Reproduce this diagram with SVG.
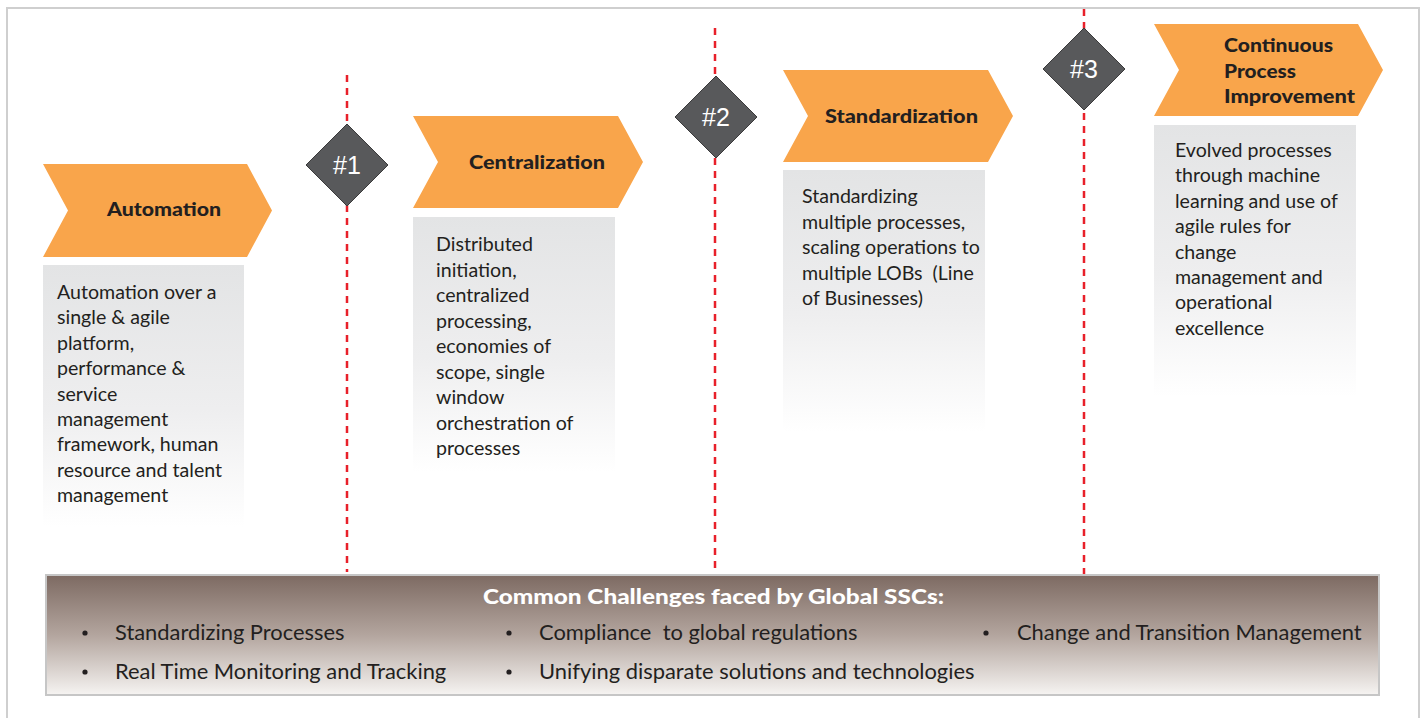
<svg xmlns="http://www.w3.org/2000/svg" width="1422" height="718" viewBox="0 0 1422 718">
  <defs>
    <linearGradient id="descFill" x1="0" y1="0" x2="0" y2="1">
      <stop offset="0" stop-color="#e3e4e5"/>
      <stop offset="0.55" stop-color="#eeeeef"/>
      <stop offset="1" stop-color="#ffffff"/>
    </linearGradient>
    <linearGradient id="bandFill" x1="0" y1="0" x2="0" y2="1">
      <stop offset="0" stop-color="#7d6a62"/>
      <stop offset="0.5" stop-color="#b3a59e"/>
      <stop offset="1" stop-color="#f6f4f2"/>
    </linearGradient>
    <style>
      .frame { fill: none; stroke: #cfcfcf; stroke-width: 2; }
      .chev { fill: #f9a54b; }
      .desc { fill: url(#descFill); }
      .gate { fill: #58595b; stroke: #3a3a3b; stroke-width: 1; }
      .gate-label { font-family: "Liberation Sans", Arial, sans-serif; font-size: 25px; fill: #ffffff; text-anchor: middle; }
      .head { font-family: Lato, "Liberation Sans", sans-serif; font-size: 19.5px; font-weight: 900; fill: #231f20; }
      .body { font-family: Lato, "Liberation Sans", sans-serif; font-size: 19.6px; fill: #231f20; }
      .milestone { stroke: #e8202a; stroke-width: 2.5; stroke-dasharray: 7 6; fill: none; }
      .band { fill: url(#bandFill); stroke: #c6c6c6; stroke-width: 2; }
      .band-title { font-family: Lato, "Liberation Sans", sans-serif; font-size: 21px; font-weight: 900; fill: #ffffff; }
      .item { font-family: Lato, "Liberation Sans", sans-serif; font-size: 21.9px; fill: #231f20; }
      .dot { fill: #231f20; }
    </style>
  </defs>

  <rect width="1422" height="718" fill="#ffffff"/>
  <!-- outer frame, open at the bottom -->
  <path class="frame" d="M7,718 V8 H1419 V718"/>

  <!-- milestone dividers -->
  <g id="connectors">
    <line class="milestone" x1="347" y1="75" x2="347" y2="572"/>
    <line class="milestone" x1="715" y1="28" x2="715" y2="574"/>
    <line class="milestone" x1="1084" y1="9" x2="1084" y2="574"/>
  </g>

  <!-- stage 1 -->
  <g id="automation">
    <path class="chev" d="M43,164 H247 L272,210.5 L247,257 H43 L68,210.5 Z"/>
    <text class="head" x="107" y="216" textLength="114" lengthAdjust="spacingAndGlyphs">Automation</text>
    <rect class="desc" x="43" y="265" width="201" height="262"/>
    <text class="body">
      <tspan x="57" y="299">Automation over a</tspan>
      <tspan x="57" y="324.4">single &amp; agile</tspan>
      <tspan x="57" y="349.8">platform,</tspan>
      <tspan x="57" y="375.2">performance &amp;</tspan>
      <tspan x="57" y="400.6">service</tspan>
      <tspan x="57" y="426">management</tspan>
      <tspan x="57" y="451.4">framework, human</tspan>
      <tspan x="57" y="476.8">resource and talent</tspan>
      <tspan x="57" y="502.2">management</tspan>
    </text>
  </g>

  <g id="gate1">
    <path class="gate" d="M347,124 L388,165 L347,206 L306,165 Z"/>
    <text class="gate-label" x="347" y="174">#1</text>
  </g>

  <!-- stage 2 -->
  <g id="centralization">
    <path class="chev" d="M413,116 H618 L643,162 L618,208 H413 L438,162 Z"/>
    <text class="head" x="469" y="169" textLength="136" lengthAdjust="spacingAndGlyphs">Centralization</text>
    <rect class="desc" x="413" y="217" width="202" height="255"/>
    <text class="body">
      <tspan x="436" y="251">Distributed</tspan>
      <tspan x="436" y="276.5">initiation,</tspan>
      <tspan x="436" y="302">centralized</tspan>
      <tspan x="436" y="327.5">processing,</tspan>
      <tspan x="436" y="353">economies of</tspan>
      <tspan x="436" y="378.5">scope, single</tspan>
      <tspan x="436" y="404">window</tspan>
      <tspan x="436" y="429.5">orchestration of</tspan>
      <tspan x="436" y="455">processes</tspan>
    </text>
  </g>

  <g id="gate2">
    <path class="gate" d="M716,76 L757,117 L716,158 L675,117 Z"/>
    <text class="gate-label" x="716" y="126">#2</text>
  </g>

  <!-- stage 3 -->
  <g id="standardization">
    <path class="chev" d="M783,70 H988 L1013,116 L988,162 H783 L808,116 Z"/>
    <text class="head" x="825" y="123" textLength="153" lengthAdjust="spacingAndGlyphs">Standardization</text>
    <rect class="desc" x="783" y="170" width="202" height="262"/>
    <text class="body">
      <tspan x="802" y="203">Standardizing</tspan>
      <tspan x="802" y="228.5">multiple processes,</tspan>
      <tspan x="802" y="254">scaling operations to</tspan>
      <tspan x="802" y="279.5">multiple LOBs &#160;(Line</tspan>
      <tspan x="802" y="305">of Businesses)</tspan>
    </text>
  </g>

  <g id="gate3">
    <path class="gate" d="M1084,28 L1125,69 L1084,110 L1043,69 Z"/>
    <text class="gate-label" x="1084" y="78">#3</text>
  </g>

  <!-- stage 4 -->
  <g id="continuous-improvement">
    <path class="chev" d="M1154,24 H1358 L1383,70 L1358,116 H1154 L1179,70 Z"/>
    <text class="head" x="1224" y="52" textLength="109" lengthAdjust="spacingAndGlyphs">Continuous</text>
    <text class="head" x="1224" y="77.5" textLength="72" lengthAdjust="spacingAndGlyphs">Process</text>
    <text class="head" x="1224" y="103" textLength="131" lengthAdjust="spacingAndGlyphs">Improvement</text>
    <rect class="desc" x="1154" y="125" width="202" height="272"/>
    <text class="body">
      <tspan x="1175" y="157">Evolved processes</tspan>
      <tspan x="1175" y="182.4">through machine</tspan>
      <tspan x="1175" y="207.8">learning and use of</tspan>
      <tspan x="1175" y="233.2">agile rules for</tspan>
      <tspan x="1175" y="258.6">change</tspan>
      <tspan x="1175" y="284">management and</tspan>
      <tspan x="1175" y="309.4">operational</tspan>
      <tspan x="1175" y="334.8">excellence</tspan>
    </text>
  </g>

  <!-- shared challenges band -->
  <g id="challenges">
    <rect class="band" x="46" y="575" width="1333" height="120"/>
    <text class="band-title" x="483" y="604" textLength="461" lengthAdjust="spacingAndGlyphs">Common Challenges faced by Global SSCs:</text>
    <circle class="dot" cx="85" cy="633" r="2.6"/>
    <text class="item" x="115" y="640">Standardizing Processes</text>
    <circle class="dot" cx="85" cy="672" r="2.6"/>
    <text class="item" x="115" y="679">Real Time Monitoring and Tracking</text>
    <circle class="dot" cx="509" cy="633" r="2.6"/>
    <text class="item" x="539" y="640">Compliance &#160;to global regulations</text>
    <circle class="dot" cx="509" cy="672" r="2.6"/>
    <text class="item" x="539" y="679">Unifying disparate solutions and technologies</text>
    <circle class="dot" cx="986" cy="633" r="2.6"/>
    <text class="item" x="1017" y="640">Change and Transition Management</text>
  </g>
</svg>
